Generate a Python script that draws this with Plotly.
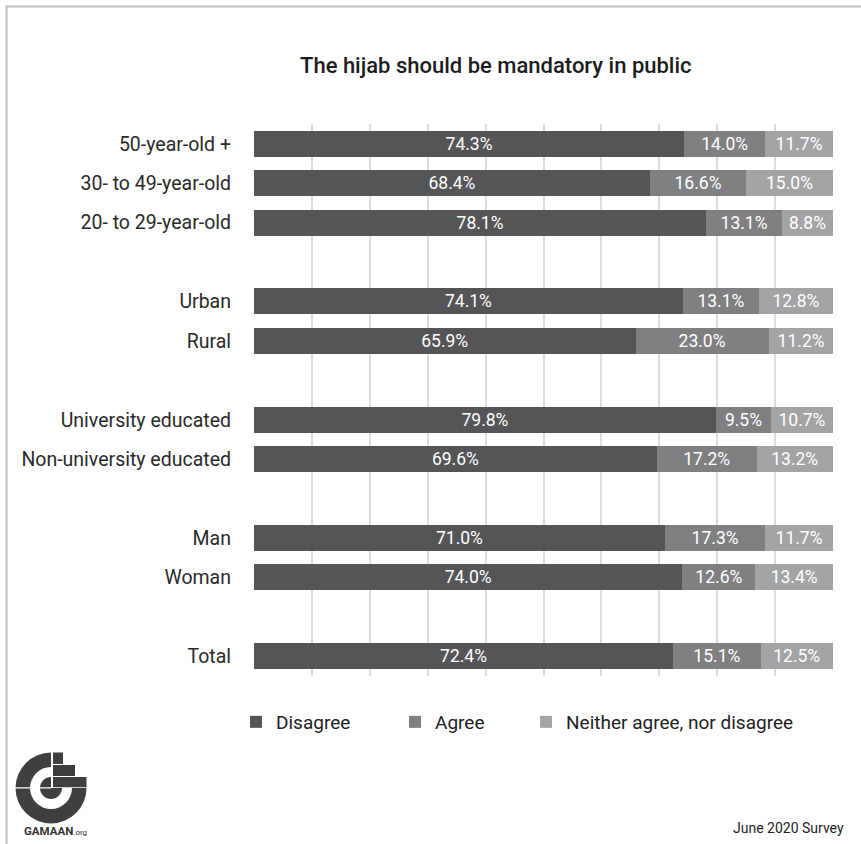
import plotly.graph_objects as go

# Survey results (percent), grouped by demographic
groups = [
    ["50-year-old +", "30- to 49-year-old", "20- to 29-year-old"],
    ["Urban", "Rural"],
    ["University educated", "Non-university educated"],
    ["Man", "Woman"],
    ["Total"],
]
disagree = [74.3, 68.4, 78.1, 74.1, 65.9, 79.8, 69.6, 71.0, 74.0, 72.4]
agree = [14.0, 16.6, 13.1, 13.1, 23.0, 9.5, 17.2, 17.3, 12.6, 15.1]
neither = [11.7, 15.0, 8.8, 12.8, 11.2, 10.7, 13.2, 11.7, 13.4, 12.5]

series_names = ["Disagree", "Agree", "Neither agree, nor disagree"]
series_colors = ["#555557", "#808083", "#a4a4a7"]

title_text = "The hijab should be mandatory in public"
footer_text = "June 2020 Survey"

# Category order with blank spacer rows between groups
categories = [c for g in groups for c in g]
category_order = []
for i, g in enumerate(groups):
    if i > 0:
        category_order.append(" " * i)
    category_order.extend(g)

# Plot-area geometry in pixels
W_FIG, H_FIG = 861, 844
L, R, T, B = 254, 833, 124, 676
PW, PH = R - L, B - T


def px(x):
    return (x - L) / PW


def py(y):
    return (B - y) / PH


fig = go.Figure()
for k, (name, vals, col) in enumerate(zip(series_names, [disagree, agree, neither], series_colors)):
    fig.add_trace(go.Bar(
        y=categories,
        x=vals,
        name=name,
        orientation="h",
        marker=dict(color=col, line=dict(width=0)),
        width=0.66,
        texttemplate="%{x:.1f}%",
        textposition="inside",
        insidetextanchor="middle",
        textangle=0,
        constraintext="none",
        textfont=dict(color="white", size=17.5, family="Roboto"),
        hoverinfo="skip",
        legend="legend" if k == 0 else f"legend{k + 1}",
    ))

shapes = []
# Outer frame (top and left edges visible)
shapes.append(dict(type="rect", xref="paper", yref="paper",
                   x0=px(6.5), y0=py(6.5), x1=px(930), y1=py(930),
                   line=dict(color="#bdbdbd", width=2), layer="below"))

# GAMAAN logo
logo = "#3f3f41"
cx, cy = 51, 788


def circ(r, color):
    return dict(type="circle", xref="paper", yref="paper",
                x0=px(cx - r), x1=px(cx + r), y0=py(cy + r), y1=py(cy - r),
                fillcolor=color, line=dict(width=0))


def rect(x0, y0, x1, y1, color):
    return dict(type="rect", xref="paper", yref="paper",
                x0=px(x0), x1=px(x1), y0=py(y1), y1=py(y0),
                fillcolor=color, line=dict(width=0))


shapes += [
    circ(35.5, logo),
    circ(21, "white"),
    circ(11, logo),
    rect(cx, cy - 37, cx + 38, cy, "white"),
    rect(cx + 2, 752.5, cx + 12, 764, logo),
    rect(cx + 2, 765, cx + 24, 776, logo),
    rect(cx + 2, 777, cx + 35.5, 787.2, logo),
    rect(14, 787.3, cx, 788.6, "white"),
]

annotations = [
    dict(text=title_text, x=px(496), y=py(66), xref="paper", yref="paper",
         showarrow=False, xanchor="center", yanchor="middle",
         font=dict(size=22, color="#1c1c1c", family="Roboto", weight=500)),
    dict(text="<b>GAMAAN</b><span style='font-size:8px'>.org</span>",
         x=px(55), y=py(831), xref="paper", yref="paper", showarrow=False,
         xanchor="center", yanchor="middle",
         font=dict(size=11.5, color="#333333", family="Roboto")),
    dict(text=footer_text, x=px(846), y=py(828), xref="paper", yref="paper",
         showarrow=False, xanchor="right", yanchor="middle",
         font=dict(size=14, color="#222222", family="Roboto")),
]

legend_style = dict(orientation="h", xanchor="left", yanchor="middle",
                    font=dict(size=19, color="#222222", family="Roboto"),
                    bgcolor="rgba(0,0,0,0)", borderwidth=0, itemclick=False,
                    itemdoubleclick=False)
legend_left = [250, 409, 540]

fig.update_layout(
    width=W_FIG, height=H_FIG,
    margin=dict(l=L, r=W_FIG - R, t=T, b=H_FIG - B, pad=0),
    paper_bgcolor="white", plot_bgcolor="white",
    barmode="stack",
    showlegend=True,
    legend=dict(x=px(legend_left[0] - 14), y=py(722), **legend_style),
    legend2=dict(x=px(legend_left[1] - 14), y=py(722), **legend_style),
    legend3=dict(x=px(legend_left[2] - 14), y=py(722), **legend_style),
    xaxis=dict(range=[0, 100], dtick=10, tick0=0, showticklabels=False,
               showgrid=True, gridcolor="#dcdcdc", gridwidth=1.5,
               zeroline=False, showline=False, fixedrange=True),
    yaxis=dict(type="category", categoryorder="array", categoryarray=category_order,
               autorange="reversed", showgrid=False, zeroline=False, showline=False,
               ticks="", ticklabelstandoff=22,
               tickfont=dict(size=19.5, color="#2a2a2a", family="Roboto"),
               fixedrange=True),
    shapes=shapes,
    annotations=annotations,
    font=dict(family="Roboto"),
)

fig.write_html("out.html", config={"displayModeBar": False})
